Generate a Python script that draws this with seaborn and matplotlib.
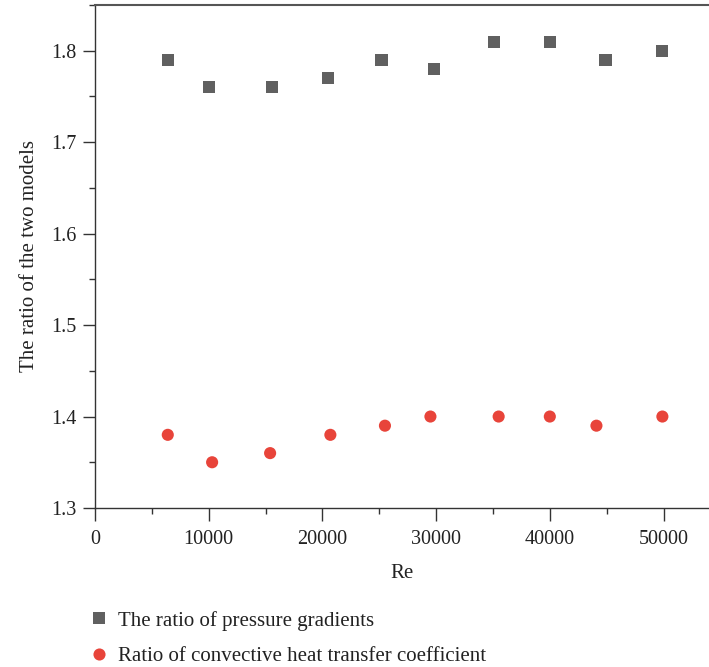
import matplotlib
matplotlib.use("Agg")
import matplotlib.pyplot as plt
import seaborn as sns
import pandas as pd
from matplotlib.ticker import MultipleLocator, AutoMinorLocator

# Data
re_pressure = [6400, 10000, 15600, 20500, 25200, 29800, 35100, 40000, 44900, 49900]
ratio_pressure = [1.79, 1.76, 1.76, 1.77, 1.79, 1.78, 1.81, 1.81, 1.79, 1.80]

re_heat = [6400, 10300, 15400, 20700, 25500, 29500, 35500, 40000, 44100, 49900]
ratio_heat = [1.38, 1.35, 1.36, 1.38, 1.39, 1.40, 1.40, 1.40, 1.39, 1.40]

label_pressure = "The ratio of pressure gradients"
label_heat = "Ratio of convective heat transfer coefficient"

df = pd.concat([
    pd.DataFrame({"Re": re_pressure, "ratio": ratio_pressure, "series": label_pressure}),
    pd.DataFrame({"Re": re_heat, "ratio": ratio_heat, "series": label_heat}),
], ignore_index=True)

sns.set_style("ticks")
plt.rcParams["font.family"] = ["Liberation Serif", "DejaVu Serif"]

fig = plt.figure(figsize=(7.09, 6.67), dpi=100)
ax = fig.add_axes([0.134, 0.2384, 0.866, 0.7541])

sns.scatterplot(data=df, x="Re", y="ratio", hue="series", style="series",
                markers={label_pressure: "s", label_heat: "o"},
                palette={label_pressure: "#606060", label_heat: "#e8443a"},
                s=76, linewidth=0, ax=ax, zorder=3)

ax.set_xlim(0, 54000)
ax.set_ylim(1.3, 1.85)
ax.xaxis.set_major_locator(MultipleLocator(10000))
ax.xaxis.set_minor_locator(AutoMinorLocator(2))
ax.yaxis.set_major_locator(MultipleLocator(0.1))
ax.yaxis.set_minor_locator(AutoMinorLocator(2))

ax.spines["right"].set_visible(False)
for side in ["left", "bottom"]:
    ax.spines[side].set_color("#333333")
    ax.spines[side].set_linewidth(1.0)
ax.spines["top"].set_color("#555555")
ax.spines["top"].set_linewidth(1.5)

ax.tick_params(which="major", direction="out", length=9, width=1, color="#333333",
               labelsize=14.5, labelcolor="#222222", pad=4)
ax.tick_params(axis="x", which="major", pad=7)
ax.tick_params(which="minor", direction="out", length=4, width=1, color="#333333")
ax.tick_params(axis="y", which="both", right=False)
ax.tick_params(axis="x", which="both", top=False)

ax.set_xlabel("Re", fontsize=15, color="#222222", labelpad=11)
ax.set_ylabel("The ratio of the two models", fontsize=15, color="#222222", labelpad=9)

handles, labels = ax.get_legend_handles_labels()
ax.legend(handles, labels, loc="upper left", bbox_to_anchor=(0.100, 0.1124),
          bbox_transform=fig.transFigure, frameon=False, fontsize=15,
          handlelength=0.9, handletextpad=0.46, labelspacing=0.75, markerscale=1.0,
          labelcolor="#222222")

fig.savefig("out.png", dpi=100)
